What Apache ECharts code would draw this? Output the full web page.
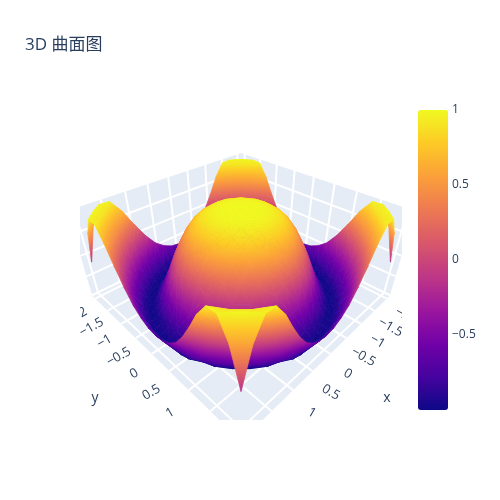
<!DOCTYPE html>
<html>
<head>
<meta charset="utf-8">
<script src="https://cdn.jsdelivr.net/npm/echarts@6/dist/echarts.min.js"></script>
<style>
html,body{margin:0;padding:0;background:#fff}
#main{width:500px;height:500px}
</style>
</head>
<body>
<div id="main"></div>
<script>
var xValues = [-2, -1.8, -1.6, -1.4, -1.2, -1, -0.8, -0.6, -0.4, -0.2, 0, 0.2, 0.4, 0.6, 0.8, 1, 1.2, 1.4, 1.6, 1.8, 2];
var yValues = [-2, -1.8, -1.6, -1.4, -1.2, -1, -0.8, -0.6, -0.4, -0.2, 0, 0.2, 0.4, 0.6, 0.8, 1, 1.2, 1.4, 1.6, 1.8, 2];
// zValues[y][x]
var zValues = [
  [-0.15, 0.58, 0.96, 0.95, 0.67, 0.28, -0.07, -0.35, -0.52, -0.62, -0.65, -0.62, -0.52, -0.35, -0.07, 0.28, 0.67, 0.95, 0.96, 0.58, -0.15],
  [0.58, 0.98, 0.89, 0.47, -0.03, -0.46, -0.74, -0.90, -0.97, -0.99, -1.00, -0.99, -0.97, -0.90, -0.74, -0.46, -0.03, 0.47, 0.89, 0.98, 0.58],
  [0.96, 0.89, 0.40, -0.19, -0.65, -0.91, -1.00, -0.98, -0.91, -0.86, -0.84, -0.86, -0.91, -0.98, -1.00, -0.91, -0.65, -0.19, 0.40, 0.89, 0.96],
  [0.95, 0.47, -0.19, -0.71, -0.97, -0.98, -0.86, -0.68, -0.52, -0.42, -0.38, -0.42, -0.52, -0.68, -0.86, -0.98, -0.97, -0.71, -0.19, 0.47, 0.95],
  [0.67, -0.03, -0.65, -0.97, -0.97, -0.76, -0.49, -0.23, -0.03, 0.09, 0.13, 0.09, -0.03, -0.23, -0.49, -0.76, -0.97, -0.97, -0.65, -0.03, 0.67],
  [0.28, -0.46, -0.91, -0.98, -0.76, -0.42, -0.07, 0.21, 0.40, 0.51, 0.54, 0.51, 0.40, 0.21, -0.07, -0.42, -0.76, -0.98, -0.91, -0.46, 0.28],
  [-0.07, -0.74, -1.00, -0.86, -0.49, -0.07, 0.29, 0.54, 0.70, 0.78, 0.80, 0.78, 0.70, 0.54, 0.29, -0.07, -0.49, -0.86, -1.00, -0.74, -0.07],
  [-0.35, -0.90, -0.98, -0.68, -0.23, 0.21, 0.54, 0.75, 0.87, 0.92, 0.94, 0.92, 0.87, 0.75, 0.54, 0.21, -0.23, -0.68, -0.98, -0.90, -0.35],
  [-0.52, -0.97, -0.91, -0.52, -0.03, 0.40, 0.70, 0.87, 0.95, 0.98, 0.99, 0.98, 0.95, 0.87, 0.70, 0.40, -0.03, -0.52, -0.91, -0.97, -0.52],
  [-0.62, -0.99, -0.86, -0.42, 0.09, 0.51, 0.78, 0.92, 0.98, 1.00, 1.00, 1.00, 0.98, 0.92, 0.78, 0.51, 0.09, -0.42, -0.86, -0.99, -0.62],
  [-0.65, -1.00, -0.84, -0.38, 0.13, 0.54, 0.80, 0.94, 0.99, 1.00, 1.00, 1.00, 0.99, 0.94, 0.80, 0.54, 0.13, -0.38, -0.84, -1.00, -0.65],
  [-0.62, -0.99, -0.86, -0.42, 0.09, 0.51, 0.78, 0.92, 0.98, 1.00, 1.00, 1.00, 0.98, 0.92, 0.78, 0.51, 0.09, -0.42, -0.86, -0.99, -0.62],
  [-0.52, -0.97, -0.91, -0.52, -0.03, 0.40, 0.70, 0.87, 0.95, 0.98, 0.99, 0.98, 0.95, 0.87, 0.70, 0.40, -0.03, -0.52, -0.91, -0.97, -0.52],
  [-0.35, -0.90, -0.98, -0.68, -0.23, 0.21, 0.54, 0.75, 0.87, 0.92, 0.94, 0.92, 0.87, 0.75, 0.54, 0.21, -0.23, -0.68, -0.98, -0.90, -0.35],
  [-0.07, -0.74, -1.00, -0.86, -0.49, -0.07, 0.29, 0.54, 0.70, 0.78, 0.80, 0.78, 0.70, 0.54, 0.29, -0.07, -0.49, -0.86, -1.00, -0.74, -0.07],
  [0.28, -0.46, -0.91, -0.98, -0.76, -0.42, -0.07, 0.21, 0.40, 0.51, 0.54, 0.51, 0.40, 0.21, -0.07, -0.42, -0.76, -0.98, -0.91, -0.46, 0.28],
  [0.67, -0.03, -0.65, -0.97, -0.97, -0.76, -0.49, -0.23, -0.03, 0.09, 0.13, 0.09, -0.03, -0.23, -0.49, -0.76, -0.97, -0.97, -0.65, -0.03, 0.67],
  [0.95, 0.47, -0.19, -0.71, -0.97, -0.98, -0.86, -0.68, -0.52, -0.42, -0.38, -0.42, -0.52, -0.68, -0.86, -0.98, -0.97, -0.71, -0.19, 0.47, 0.95],
  [0.96, 0.89, 0.40, -0.19, -0.65, -0.91, -1.00, -0.98, -0.91, -0.86, -0.84, -0.86, -0.91, -0.98, -1.00, -0.91, -0.65, -0.19, 0.40, 0.89, 0.96],
  [0.58, 0.98, 0.89, 0.47, -0.03, -0.46, -0.74, -0.90, -0.97, -0.99, -1.00, -0.99, -0.97, -0.90, -0.74, -0.46, -0.03, 0.47, 0.89, 0.98, 0.58],
  [-0.15, 0.58, 0.96, 0.95, 0.67, 0.28, -0.07, -0.35, -0.52, -0.62, -0.65, -0.62, -0.52, -0.35, -0.07, 0.28, 0.67, 0.95, 0.96, 0.58, -0.15]
];
var xTicks = [-2, -1.5, -1, -0.5, 0, 0.5, 1, 1.5, 2];
var yTicks = [-2, -1.5, -1, -0.5, 0, 0.5, 1, 1.5, 2];
var zTicks = [-1, -0.5, 0, 0.5, 1];
var plasma = ['#0d0887', '#46039f', '#7201a8', '#9c179e', '#bd3786', '#d8576b', '#ed7953', '#fb9f3a', '#fdca26', '#f0f921'];

var Z_MIN = -1, Z_MAX = 1;
// scene box (axis ranges are padded a little past the data) and camera
var XY_RANGE = 2.125, Z_RANGE = 1.011;
var SXY = 1 / XY_RANGE, SZ = 0.453;
var EYE_XY = 1.901, EYE_Z = 1.832;
var TEXT = '#2a3f5f';
var FONT = '"Open Sans", "Noto Sans CJK SC", sans-serif';

var CAM_K = 2 * EYE_XY * EYE_XY + EYE_Z * EYE_Z;
var CAM_M = Math.sqrt(CAM_K);
var CAM_N = Math.sqrt(2 * EYE_Z * EYE_Z + 4 * EYE_XY * EYE_XY);

// 3D data point -> perspective plane [u, v, depth]
function toView(x, y, z) {
  var X = x * SXY, Y = y * SXY, Z = z * SZ;
  var xc = (Y - X) / Math.SQRT2;
  var yc = (2 * EYE_XY * Z - EYE_Z * (X + Y)) / CAM_N;
  var zc = (CAM_K - EYE_XY * (X + Y) - EYE_Z * Z) / CAM_M;
  return [xc / zc, yc / zc, zc];
}
function px(api, p) {
  var v = toView(p[0], p[1], p[2]);
  return api.coord([v[0], v[1]]);
}

function hexRgb(h) {
  return [parseInt(h.substr(1, 2), 16), parseInt(h.substr(3, 2), 16), parseInt(h.substr(5, 2), 16)];
}
function colorAt(v) {
  var t = (v - Z_MIN) / (Z_MAX - Z_MIN);
  t = Math.max(0, Math.min(1, t));
  var n = plasma.length - 1, pos = t * n, k = Math.min(n - 1, Math.floor(pos)), f = pos - k;
  var a = hexRgb(plasma[k]), b = hexRgb(plasma[k + 1]);
  return 'rgb(' + Math.round(a[0] + (b[0] - a[0]) * f) + ',' + Math.round(a[1] + (b[1] - a[1]) * f) + ',' + Math.round(a[2] + (b[2] - a[2]) * f) + ')';
}
function triFill(pts, zs, flat) {
  var lo = Math.min(zs[0], zs[1], zs[2]), hi = Math.max(zs[0], zs[1], zs[2]);
  var e1x = pts[1][0] - pts[0][0], e1y = pts[1][1] - pts[0][1];
  var e2x = pts[2][0] - pts[0][0], e2y = pts[2][1] - pts[0][1];
  var det = e1x * e2y - e1y * e2x;
  if (Math.abs(det) < 0.05 || hi - lo < 1e-4) return flat;
  var dz1 = zs[1] - zs[0], dz2 = zs[2] - zs[0];
  var gx = (dz1 * e2y - e1y * dz2) / det, gy = (e1x * dz2 - dz1 * e2x) / det;
  var g2 = gx * gx + gy * gy;
  if (g2 < 1e-12) return flat;
  var a = (lo - zs[0]) / g2, b = (hi - zs[0]) / g2;
  var stops = [{offset: 0, color: colorAt(lo)}];
  var n = plasma.length - 1;
  for (var k = 1; k < n; k++) {
    var v = Z_MIN + (Z_MAX - Z_MIN) * k / n;
    if (v > lo && v < hi) stops.push({offset: (v - lo) / (hi - lo), color: plasma[k]});
  }
  stops.push({offset: 1, color: colorAt(hi)});
  return new echarts.graphic.LinearGradient(
    pts[0][0] + gx * a, pts[0][1] + gy * a, pts[0][0] + gx * b, pts[0][1] + gy * b, stops, true);
}

// split each cell along the diagonal whose two ends are closest in value
function triVerts(j, i, t) {
  var a = zValues[i][j], b = zValues[i][j + 1], c = zValues[i + 1][j + 1], d = zValues[i + 1][j];
  if (Math.abs(a - c) <= Math.abs(b - d)) {
    return t === 0 ? [[j, i], [j + 1, i], [j + 1, i + 1]] : [[j, i], [j + 1, i + 1], [j, i + 1]];
  }
  return t === 0 ? [[j, i], [j + 1, i], [j, i + 1]] : [[j + 1, i], [j + 1, i + 1], [j, i + 1]];
}

// surface triangles, far ones first
var tris = [];
for (var i = 0; i < yValues.length - 1; i++) {
  for (var j = 0; j < xValues.length - 1; j++) {
    for (var t = 0; t < 2; t++) {
      var vs = triVerts(j, i, t), sx = 0, sy = 0, sz = 0;
      vs.forEach(function (v) { sx += xValues[v[0]]; sy += yValues[v[1]]; sz += zValues[v[1]][v[0]]; });
      tris.push([j, i, t, sz / 3, toView(sx / 3, sy / 3, sz / 3)[2]]);
    }
  }
}
tris.sort(function (a, b) { return b[4] - a[4]; });

function renderSurface(params, api) {
  var vs = triVerts(api.value(0), api.value(1), api.value(2));
  var pts = [], zs = [];
  vs.forEach(function (v) {
    var z = zValues[v[1]][v[0]];
    pts.push(px(api, [xValues[v[0]], yValues[v[1]], z]));
    zs.push(z);
  });
  var fill = triFill(pts, zs, api.visual('color'));
  return {type: 'polygon', shape: {points: pts}, style: {fill: fill, stroke: fill, lineWidth: 0.8, lineJoin: 'round'}};
}

function renderBox(params, api) {
  var x0 = -XY_RANGE, x1 = XY_RANGE, y0 = -XY_RANGE, y1 = XY_RANGE, z0 = -Z_RANGE, z1 = Z_RANGE;
  var planes = [
    [[x0, y0, z0], [x1, y0, z0], [x1, y0, z1], [x0, y0, z1]],
    [[x0, y0, z0], [x0, y1, z0], [x0, y1, z1], [x0, y0, z1]],
    [[x0, y0, z0], [x1, y0, z0], [x1, y1, z0], [x0, y1, z0]]
  ];
  var segs = [];
  xTicks.forEach(function (v) {
    segs.push([[v, y0, z0], [v, y0, z1]]);
    segs.push([[v, y0, z0], [v, y1, z0]]);
  });
  yTicks.forEach(function (v) {
    segs.push([[x0, v, z0], [x0, v, z1]]);
    segs.push([[x0, v, z0], [x1, v, z0]]);
  });
  zTicks.forEach(function (v) {
    segs.push([[x0, y0, v], [x1, y0, v]]);
    segs.push([[x0, y0, v], [x0, y1, v]]);
  });
  var children = planes.map(function (pl) {
    return {type: 'polygon', shape: {points: pl.map(function (p) { return px(api, p); })}, style: {fill: '#E5ECF6'}};
  });
  segs.forEach(function (s) {
    var a = px(api, s[0]), b = px(api, s[1]);
    children.push({type: 'line', shape: {x1: a[0], y1: a[1], x2: b[0], y2: b[1]}, style: {stroke: '#fff', lineWidth: 2}});
  });
  return {type: 'group', children: children};
}

function fmt(v) { return (v < 0 ? '\u2212' : '') + Math.abs(v); }

var labelItems = [];
xTicks.forEach(function (v) { labelItems.push([0, v]); });
yTicks.forEach(function (v) { labelItems.push([1, v]); });
labelItems.push([2, 0], [3, 0]);

function renderLabels(params, api) {
  var kind = api.value(0), v = api.value(1), p, text, rot = 0, size = 13;
  var far = 2.497, zl = -1.201, farT = 3.177, zT = -1.159;
  if (kind === 0) { p = px(api, [v, far, zl]); text = fmt(v); rot = -Math.PI / 6; }
  else if (kind === 1) { p = px(api, [far, v, zl]); text = fmt(v); rot = Math.PI / 6; }
  else if (kind === 2) { p = px(api, [0, farT, zT]); text = 'x'; size = 14; }
  else { p = px(api, [farT, 0, zT]); text = 'y'; size = 14; }
  return {
    type: 'text', x: p[0], y: p[1], rotation: rot,
    style: {text: text, fill: TEXT, font: size + 'px ' + FONT, align: 'center', verticalAlign: 'middle',
      textAlign: 'center', textVerticalAlign: 'middle'}
  };
}

var chart = echarts.init(document.getElementById('main'));
chart.setOption({
  animation: false,
  backgroundColor: '#fff',
  title: {
    text: '3D 曲面图', left: 25, top: 35, padding: 0,
    textStyle: {fontSize: 17, fontWeight: 'normal', color: TEXT, fontFamily: FONT, lineHeight: 20}
  },
  grid: [
    {left: 80, top: 100, width: 322, height: 320},
    {left: 418, top: 110, width: 30, height: 300}
  ],
  xAxis: [
    {type: 'value', min: -0.43592, max: 0.43576, show: false},
    {type: 'value', gridIndex: 1, show: false, min: 0, max: 1}
  ],
  yAxis: [
    {type: 'value', min: -0.44440, max: 0.42187, show: false},
    {
      type: 'value', gridIndex: 1, position: 'right', min: Z_MIN, max: Z_MAX, interval: 0.5,
      axisLine: {show: false}, axisTick: {show: false}, splitLine: {show: false},
      axisLabel: {margin: 4, color: TEXT, fontSize: 12, fontFamily: FONT,
        formatter: function (v) { return v === Z_MIN ? '' : fmt(v); }}
    }
  ],
  visualMap: {
    type: 'continuous', min: Z_MIN, max: Z_MAX, dimension: 3, seriesIndex: 1,
    left: 418, top: 110, itemWidth: 30, itemHeight: 300, padding: 0,
    calculable: false, hoverLink: false, text: null, showLabel: false,
    inRange: {color: plasma}
  },
  series: [
    {type: 'custom', name: 'box', clip: true, z: 1, silent: true, data: [[0, 0]], renderItem: renderBox},
    {type: 'custom', name: 'surface', clip: true, z: 2, silent: true, data: tris, renderItem: renderSurface},
    {type: 'custom', name: 'labels', clip: true, z: 3, silent: true, data: labelItems, renderItem: renderLabels}
  ]
});
</script>
</body>
</html>
